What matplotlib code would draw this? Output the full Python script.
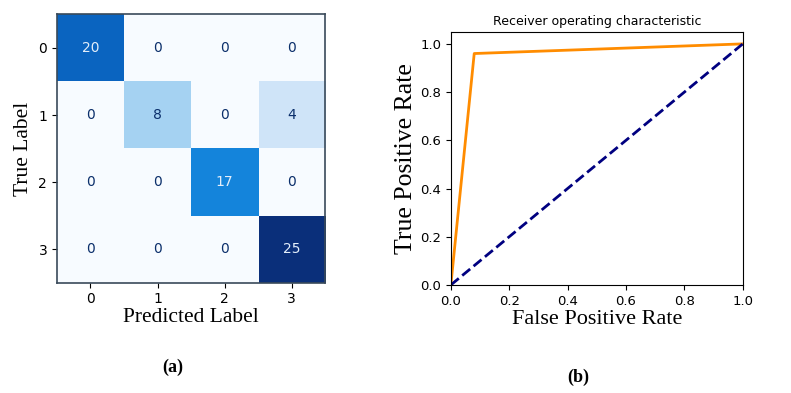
import numpy as np
import matplotlib.pyplot as plt
from matplotlib.colors import LinearSegmentedColormap

# confusion matrix values
classes = ['0', '1', '2', '3']
cm = np.array([[20, 0, 0, 0],
               [0, 8, 0, 4],
               [0, 0, 17, 0],
               [0, 0, 0, 25]])

# ROC curve
fpr = [0.0, 0.08, 1.0]
tpr = [0.0, 0.96, 1.0]
chance = [0.0, 1.0]

serif = 'Liberation Serif'

# brighter blues than the stock map
blues = LinearSegmentedColormap.from_list('blues2', [
    (0.0, '#f7fbff'), (0.16, '#cfe4f8'), (0.32, '#a5d2f2'),
    (0.68, '#1585dc'), (0.8, '#0a64c0'), (1.0, '#0a2f7a')])

fig = plt.figure(figsize=(7.91, 3.93), dpi=100)

# (a) confusion matrix
ax1 = fig.add_axes([0.072, 0.280, 0.339, 0.684])
ax1.imshow(cm, cmap=blues, interpolation='nearest', vmin=0, vmax=cm.max())
thresh = (cm.max() + cm.min()) / 2.0
for i in range(cm.shape[0]):
    for j in range(cm.shape[1]):
        c = '#e3eefa' if cm[i, j] > thresh else '#0b2f6b'
        ax1.text(j, i, str(cm[i, j]), ha='center', va='center', color=c, fontsize=10)
ax1.set_xticks(range(len(classes)))
ax1.set_yticks(range(len(classes)))
ax1.set_xticklabels(classes, fontsize=10)
ax1.set_yticklabels(classes, fontsize=10)
ax1.set_xlabel('Predicted Label', family=serif, fontsize=15.5, labelpad=1)
ax1.set_ylabel('True Label', family=serif, fontsize=15.5, labelpad=4)
for s in ax1.spines.values():
    s.set_color('#3a4a5a')
    s.set_linewidth(1.2)
fig.text(0.218, 0.066, '(a)', family=serif, fontweight='bold', fontsize=13, ha='center', va='center')

# (b) ROC
ax2 = fig.add_axes([0.570, 0.275, 0.369, 0.644])
ax2.plot(fpr, tpr, color='darkorange', lw=2)
ax2.plot(chance, chance, color='navy', lw=2, linestyle='--')
ax2.set_xlim(0.0, 1.0)
ax2.set_ylim(0.0, 1.05)
ax2.set_xticks([0.0, 0.2, 0.4, 0.6, 0.8, 1.0])
ax2.set_yticks([0.0, 0.2, 0.4, 0.6, 0.8, 1.0])
ax2.tick_params(labelsize=9.5)
ax2.set_title('Receiver operating characteristic', fontsize=9, pad=5)
ax2.set_xlabel('False Positive Rate', family=serif, fontsize=16, labelpad=2)
ax2.set_ylabel('True Positive Rate', family=serif, fontsize=18.5, labelpad=2)
fig.text(0.731, 0.041, '(b)', family=serif, fontweight='bold', fontsize=13, ha='center', va='center')

fig.savefig('out.png', dpi=100)
